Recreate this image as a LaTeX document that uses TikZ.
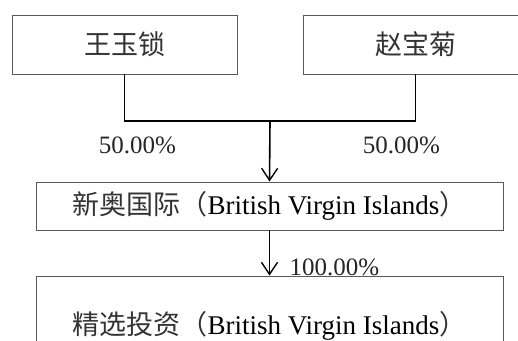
\documentclass[tikz,border=0pt]{standalone}
\usepackage{fontspec}
\setmainfont{Liberation Serif}
\newfontfamily\cjk{Noto Sans CJK SC}
\usetikzlibrary{arrows.meta}
\begin{document}
\begin{tikzpicture}[x=1pt,y=-1pt,
  boxnode/.style={draw=black!65,line width=0.9pt,fill=white,inner sep=0pt,font=\fontsize{27}{31}\selectfont},
  conn/.style={draw=black,line width=1.6pt},
  arr/.style={conn,-{Straight Barb[length=12pt,width=16pt,line width=1.4pt]}},
  pct/.style={inner sep=0pt,font=\fontsize{25}{29}\selectfont,text=black!85}]
\useasboundingbox (0,0) rectangle (518,340);
\clip (0,0) rectangle (518,340);
\fill[white] (0,0) rectangle (518,340);
\node[boxnode,minimum width=225pt,minimum height=59pt] (b1) at (124.5,44.5) {\cjk\color{black!80}王玉锁};
\node[boxnode,minimum width=225pt,minimum height=59pt] (b2) at (415.5,44.5) {\cjk\color{black!80}赵宝菊};
\node[boxnode,minimum width=467pt,minimum height=48pt] (b3) at (269.5,206) {{\cjk\color{black!80}新奥国际（}British Virgin Islands{\cjk\color{black!80}）}};
\node[boxnode,minimum width=467pt,minimum height=100pt] (b4) at (269.5,326) {{\cjk\color{black!80}精选投资（}British Virgin Islands{\cjk\color{black!80}）}};
\coordinate (j) at (270,121);
\draw[conn] (b1.south) |- (j) -| (b2.south);
\draw[arr] (j) -- (b3.north);
\draw[arr] (b3.south) -- (b4.north);
\node[pct] (p1) at (137.5,145) {50.00\%};
\node[pct] (p2) at (401.5,145) {50.00\%};
\node[pct] (p3) at (334.5,267) {100.00\%};
\end{tikzpicture}
\end{document}
